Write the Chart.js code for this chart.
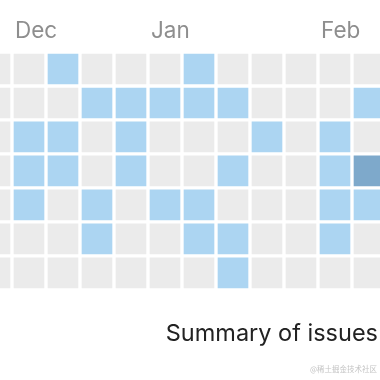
<!DOCTYPE html>
<html><head><meta charset="utf-8">
<script src="https://cdn.jsdelivr.net/npm/chart.js@4/dist/chart.umd.min.js"></script>
<style>
html,body{margin:0;padding:0;width:380px;height:380px;overflow:hidden;background:#fff}
#wrap{position:absolute;left:0;top:0;width:380px;height:380px}
#wm{position:absolute;right:3px;top:363px;font:7.5px "Noto Sans CJK SC";color:#c4c4c4;white-space:nowrap}
</style></head><body>
<div id="wrap"><canvas id="c" width="380" height="380"></canvas></div>
<div id="wm">@稀土掘金技术社区</div>
<script>
// Week columns (left to right) and the month label shown above a column
const monthLabels = ['', 'Dec', '', '', '', 'Jan', '', '', '', '', 'Feb', ''];
const dayRows = ['Sun', 'Mon', 'Tue', 'Wed', 'Thu', 'Fri', 'Sat'];
// Issue level per week column, one array per weekday row (top to bottom)
const sun = [0, 0, 1, 0, 0, 0, 1, 0, 0, 0, 0, 0];
const mon = [0, 0, 0, 1, 1, 1, 1, 1, 0, 0, 0, 1];
const tue = [0, 1, 1, 0, 1, 0, 0, 0, 1, 0, 1, 0];
const wed = [0, 1, 1, 0, 1, 0, 0, 1, 0, 0, 1, 2];
const thu = [0, 1, 0, 1, 0, 1, 1, 0, 0, 0, 1, 1];
const fri = [0, 0, 0, 1, 0, 0, 1, 1, 0, 0, 1, 0];
const sat = [0, 0, 0, 0, 0, 0, 0, 1, 0, 0, 0, 0];
const issueRows = [sun, mon, tue, wed, thu, fri, sat];
const levelColors = ['#ebebeb', '#acd5f2', '#7ea9cb'];

const GAP = 2 / 34;
const datasets = issueRows.map((row, r) => ({
  label: dayRows[r],
  data: row.map((v, i) => ({ x: i + 0.5, y: [r + GAP, r + 1 - GAP], v })),
  backgroundColor: ctx => levelColors[ctx.raw ? ctx.raw.v : 0],
  borderWidth: 0,
  barThickness: 30,
  grouped: false,
  clip: { left: 0, top: 0, right: 2, bottom: 0 }
}));

new Chart(document.getElementById('c'), {
  type: 'bar',
  data: { datasets },
  options: {
    responsive: false,
    animation: false,
    devicePixelRatio: 1,
    layout: { padding: { top: 11, right: 2, bottom: 0, left: 0 } },
    scales: {
      x: {
        type: 'linear',
        position: 'top',
        offset: false,
        min: 22 / 34,
        max: 400 / 34,
        grid: { display: false, drawTicks: false, offset: false },
        border: { display: false },
        afterBuildTicks: axis => {
          axis.ticks = monthLabels.map((m, i) => (m ? { value: i } : null)).filter(Boolean);
        },
        afterFit: axis => {
          axis.paddingLeft = 0;
          axis.paddingRight = 0;
        },
        ticks: {
          autoSkip: false,
          maxRotation: 0,
          minRotation: 0,
          align: 'start',
          labelOffset: 3,
          padding: 7,
          color: '#8e8e8e',
          font: { family: 'Inter', size: 22.5 },
          callback: value => monthLabels[value]
        }
      },
      y: {
        type: 'linear',
        reverse: true,
        min: 0,
        max: 7,
        display: false
      }
    },
    plugins: {
      legend: { display: false },
      tooltip: { enabled: false },
      title: {
        display: true,
        text: 'Summary of issues',
        position: 'bottom',
        align: 'end',
        color: '#222222',
        font: { family: 'Inter', size: 23.5, weight: 'normal' },
        padding: { top: 30, bottom: 32 }
      }
    }
  }
});
</script>
</body></html>
